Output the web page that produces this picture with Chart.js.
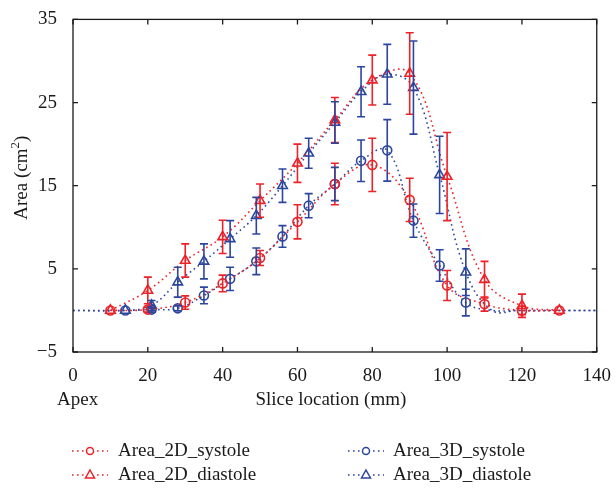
<!DOCTYPE html>
<html>
<head>
<meta charset="utf-8">
<script src="https://cdn.jsdelivr.net/npm/chart.js@4.4.1/dist/chart.umd.min.js"></script>
<style>
  body { margin: 0; background: #fff; }
  #wrap { width: 616px; height: 489px; position: relative; }
</style>
</head>
<body>
<div id="wrap"><canvas id="chart"></canvas></div>
<script>
// slice positions (mm)
const slices2D = [10, 20, 30, 40, 50, 60, 70, 80, 90, 100, 110, 120, 130];
const slices3D = [0, 14, 21, 28, 35, 42, 49, 56, 63, 70, 77, 84, 91, 98, 105, 112, 119, 126, 133, 140];

// areas (cm^2) and their error bars
const sys2D    = [0, 0.1, 0.95, 3.25, 6.3, 10.65, 15.2, 17.5, 13.3, 3.0, 0.76, 0, 0];
const sys2DErr = [0, 0.3, 0.8, 1.0, 0.9, 2.05, 2.5, 3.2, 2.6, 1.8, 0.85, 0.5, 0];
const dia2D    = [0, 2.4, 6.0, 8.85, 13.2, 17.7, 22.9, 27.7, 28.5, 16.1, 3.7, 0.56, 0];
const dia2DErr = [0, 1.6, 2.0, 2.0, 2.0, 2.3, 2.7, 3.0, 4.9, 5.3, 2.2, 1.4, 0];
const sys3D    = [0, 0, 0.1, 0.25, 1.8, 3.8, 5.9, 8.9, 12.6, 15.2, 18.0, 19.25, 10.8, 5.4, 0.95, 0, 0, 0, 0, 0];
const sys3DErr = [0, 0, 0.3, 0.3, 1.0, 1.4, 1.6, 1.3, 1.45, 2.0, 2.5, 3.7, 2.0, 1.9, 1.6, 0, 0, 0, 0, 0];
const dia3D    = [0, 0, 0.6, 3.4, 5.9, 8.6, 11.4, 15.0, 18.9, 22.6, 26.3, 28.4, 26.8, 16.3, 4.6, 0, 0, 0, 0, 0];
const dia3DErr = [0, 0, 0.6, 1.8, 2.1, 2.2, 2.2, 2.0, 1.8, 2.5, 3.0, 3.6, 5.6, 4.65, 2.8, 0, 0, 0, 0, 0];

const seriesNames = ['Area_2D_systole', 'Area_2D_diastole', 'Area_3D_systole', 'Area_3D_diastole'];
const xTicks = [0, 20, 40, 60, 80, 100, 120, 140];
const yTicks = [-5, 5, 15, 25, 35];

const RED = 'rgb(236,34,40)';
const BLUE = 'rgb(44,70,158)';
const FONT = '"Liberation Serif", "Times New Roman", serif';

function pts(xs, ys, errs) {
  return xs.map((x, i) => ({ x: x, y: ys[i], err: errs[i] }));
}

// 3D curves run on to the frame without markers outside 14..105 mm
function hidden(raw, is3D) {
  return is3D && (raw.x < 14 || raw.x > 105);
}

function ds(label, xs, ys, errs, color, shape, is3D) {
  return {
    label: label,
    data: pts(xs, ys, errs),
    borderColor: color,
    backgroundColor: 'rgba(255,255,255,0)',
    borderWidth: 1.6,
    borderDash: [1.6, 3.4],
    tension: 0.4,
    pointStyle: shape,
    pointRadius: ctx => (ctx.raw && hidden(ctx.raw, is3D)) ? 0 : (shape === 'triangle' ? 5.5 : 4.5),
    pointBorderColor: color,
    pointBackgroundColor: 'rgba(255,255,255,0)',
    pointBorderWidth: 1.6,
    errColor: color
  };
}

const errorBars = {
  id: 'errorBars',
  afterDatasetsDraw(chart) {
    const c = chart.ctx;
    const xs = chart.scales.x, ys = chart.scales.y;
    chart.data.datasets.forEach(d => {
      c.save();
      c.strokeStyle = d.errColor;
      c.lineWidth = 1.6;
      d.data.forEach(p => {
        if (!p.err) return;
        const px = xs.getPixelForValue(p.x);
        const top = ys.getPixelForValue(p.y + p.err);
        const bot = ys.getPixelForValue(p.y - p.err);
        c.beginPath();
        c.moveTo(px, top); c.lineTo(px, bot);
        c.moveTo(px - 4, top); c.lineTo(px + 4, top);
        c.moveTo(px - 4, bot); c.lineTo(px + 4, bot);
        c.stroke();
      });
      c.restore();
    });
  }
};

const frame = {
  id: 'frame',
  afterDraw(chart) {
    const c = chart.ctx;
    const a = chart.chartArea;
    const xs = chart.scales.x, ys = chart.scales.y;
    c.save();
    c.strokeStyle = '#1a1a1a';
    c.lineWidth = 1.3;
    c.strokeRect(a.left, a.top, a.right - a.left, a.bottom - a.top);
    c.beginPath();
    xTicks.forEach(v => {
      const px = xs.getPixelForValue(v);
      c.moveTo(px, a.bottom); c.lineTo(px, a.bottom - 5);
      c.moveTo(px, a.top); c.lineTo(px, a.top + 5);
    });
    yTicks.forEach(v => {
      const py = ys.getPixelForValue(v);
      c.moveTo(a.left, py); c.lineTo(a.left + 5, py);
      c.moveTo(a.right, py); c.lineTo(a.right - 5, py);
    });
    c.stroke();

    // axis titles
    c.fillStyle = '#1a1a1a';
    c.font = '19px ' + FONT;
    c.textBaseline = 'alphabetic';
    c.textAlign = 'center';
    c.fillText('Slice location (mm)', (a.left + a.right) / 2 - 4, 405);
    c.textAlign = 'left';
    c.fillText('Apex', 57, 405);

    c.save();
    c.translate(27, (a.top + a.bottom) / 2 - 8);
    c.rotate(-Math.PI / 2);
    const p1 = 'Area (cm', p3 = ')';
    c.font = '19px ' + FONT;
    const w1 = c.measureText(p1).width;
    c.font = '13px ' + FONT;
    const w2 = c.measureText('2').width;
    c.font = '19px ' + FONT;
    const w3 = c.measureText(p3).width;
    let x0 = -(w1 + w2 + w3) / 2;
    c.textAlign = 'left';
    c.fillText(p1, x0, 0);
    c.font = '13px ' + FONT;
    c.fillText('2', x0 + w1, -8);
    c.font = '19px ' + FONT;
    c.fillText(p3, x0 + w1 + w2, 0);
    c.restore();

    // legend
    const cols = [[72, 108, 118], [348, 384, 393]];
    const rows = [451, 475];
    chart.data.datasets.forEach((d, i) => {
      const col = cols[Math.floor(i / 2)];
      const ry = rows[i % 2];
      c.save();
      c.strokeStyle = d.borderColor;
      c.lineWidth = 1.6;
      c.setLineDash(d.borderDash);
      c.beginPath();
      c.moveTo(col[0], ry); c.lineTo(col[1], ry);
      c.stroke();
      c.setLineDash([]);
      c.fillStyle = '#fff';
      const mx = (col[0] + col[1]) / 2;
      c.fillRect(mx - 6, ry - 6, 12, 12);
      c.lineWidth = 1.5;
      c.beginPath();
      if (d.pointStyle === 'triangle') {
        c.moveTo(mx, ry - 5); c.lineTo(mx + 4.5, ry + 3); c.lineTo(mx - 4.5, ry + 3); c.closePath();
      } else {
        c.arc(mx, ry, 3.5, 0, Math.PI * 2);
      }
      c.stroke();
      c.restore();
      c.fillStyle = '#1a1a1a';
      c.font = '19px ' + FONT;
      c.textAlign = 'left';
      c.textBaseline = 'middle';
      c.fillText(d.label, col[2], ry);
    });
    c.restore();
  }
};

new Chart(document.getElementById('chart').getContext('2d'), {
  type: 'line',
  data: {
    datasets: [
      ds(seriesNames[0], slices2D, sys2D, sys2DErr, RED, 'circle', false),
      ds(seriesNames[1], slices2D, dia2D, dia2DErr, RED, 'triangle', false),
      ds(seriesNames[2], slices3D, sys3D, sys3DErr, BLUE, 'circle', true),
      ds(seriesNames[3], slices3D, dia3D, dia3DErr, BLUE, 'triangle', true)
    ]
  },
  options: {
    responsive: true,
    maintainAspectRatio: false,
    animation: false,
    layout: { padding: { top: 14, right: 15, left: 0, bottom: 0 } },
    plugins: { legend: { display: false }, tooltip: { enabled: false } },
    scales: {
      x: {
        type: 'linear',
        min: 0, max: 140,
        grid: { display: false },
        border: { display: false },
        afterFit: s => { s.height = 137; },
        afterBuildTicks: s => { s.ticks = xTicks.map(v => ({ value: v })); },
        ticks: { padding: 5, color: '#1a1a1a', font: { family: FONT, size: 19 }, maxRotation: 0 }
      },
      y: {
        min: -5, max: 35,
        grid: { display: false },
        border: { display: false },
        afterFit: s => { s.width = 73; },
        afterBuildTicks: s => { s.ticks = yTicks.map(v => ({ value: v })); },
        ticks: {
          padding: 8, color: '#1a1a1a', font: { family: FONT, size: 19 },
          callback: v => String(v).replace('-', '\u2212')
        }
      }
    }
  },
  plugins: [errorBars, frame]
});
</script>
</body>
</html>
